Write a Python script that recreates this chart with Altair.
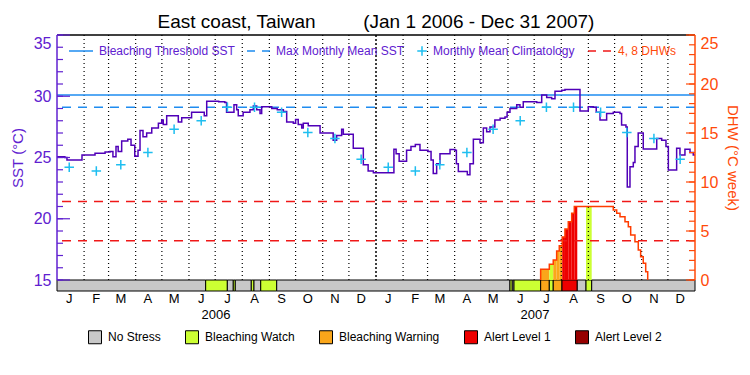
import altair as alt
import numpy as np
import pandas as pd

FONT = "Liberation Sans"
PURPLE = "#6020D0"
SST_LINE = "#5000B8"
BLUE = "#1E8CF0"
CYAN = "#1EBEF0"
ORANGE = "#FF4A0A"
DHW_LINE = "#FF3C00"
RED = "#F01818"

TITLE = "East coast, Taiwan" + "\u00a0" * 9 + "(Jan 1 2006 - Dec 31 2007)"

# ---- data (days counted from 2006-01-01) ----
sst_day = [0, 9, 11.4, 28.6, 43.5, 55, 60.6, 64, 67.5, 70, 74, 81, 84.7, 89, 92.7, 95, 98.4,
           102.6, 108.4, 116, 119.8, 121.6, 125.5, 138.8, 142.7, 154, 168.5, 171.3, 185, 192,
           194, 202.5, 205.6, 207.4, 213, 220.8, 224.6, 228.5, 232.3, 234.2, 245.7, 252, 259,
           262.8, 270.4, 273, 276, 280, 281.8, 287.5, 301, 316, 320, 325.7, 327.6, 339, 350.5,
           356, 362,
           385.5, 388, 391.5, 400, 405, 410, 415.3, 424.5, 428, 430.5, 434.4, 438.2, 449.7,
           455.4, 457, 459.2, 469.5, 472.5, 476.4, 484, 487.8, 491.6, 495.4, 501, 507, 512.6,
           515, 518.3, 526, 529.7, 533.5, 548.9, 554.6, 560.3, 566, 569.8, 577.5, 581.2, 598.4,
           607.9, 613.6, 617, 621.3, 628.9, 636.5, 644.2, 646, 651, 652.5, 655.6, 659.4, 661.3,
           665, 670.8, 682.3, 686.2, 691.9, 696.8, 699.5, 709, 712.8, 718.5, 724.3, 728, 730]
sst_val = [25.07, 25.0, 24.8, 25.2, 25.35, 25.45, 25.5, 25.07, 25.9, 25.5, 26.35, 26.5, 26.0,
           25.1, 25.6, 27.2, 26.7, 27.0, 27.4, 27.8, 28.06, 27.7, 28.4, 27.9, 28.25, 28.7, 28.4,
           29.6, 29.55, 29.5, 28.7, 29.3, 28.9, 28.4, 28.7, 28.9, 29.2, 28.9, 28.6, 29.15, 29.0,
           28.9, 28.75, 27.9, 27.8, 28.1, 27.7, 27.4, 27.8, 27.6, 27.0, 26.4, 26.8, 27.3, 26.9,
           25.75, 24.4, 23.9, 23.76,
           25.67, 25.3, 24.7, 25.6, 25.9, 26.07, 25.6, 25.5, 24.8, 23.7, 24.5, 25.3, 25.66,
           25.6, 24.5, 23.85, 23.6, 24.5, 26.5, 26.2, 27.4, 27.1, 27.5, 28.06, 28.2, 28.3,
           28.7, 29.0, 29.3, 29.1, 29.56, 29.5, 30.1, 29.9, 29.8, 30.4, 30.5, 30.56, 28.8,
           29.15, 29.1, 28.7, 28.06, 28.6, 28.7, 28.6, 27.65, 27.5, 22.6, 24.25, 24.6, 25.9,
           27.0, 25.7, 25.7, 26.55, 26.4, 25.9, 23.98, 25.75, 25.2, 25.67, 25.4, 25.2, 25.2]

clim_val = [24.2, 23.9, 24.4, 25.4, 27.3, 28.0, 29.1, 29.1, 28.7, 27.05, 26.55, 24.85]
threshold_sst = 30.1
mmm_sst = 29.1
dhw_levels = [4, 8]

dhw_day = [553.4, 553.4, 563.3, 567.8, 571.7, 574.7, 578.1, 581.2, 585, 588.9, 591.9, 636.5,
           640.4, 644.2, 649.9, 653.7, 656.4, 661.3, 665.1, 667.8, 670.8, 673.6, 675.9]
dhw_val = [0, 1.09, 1.6, 2.04, 2.96, 3.5, 4.4, 5.2, 5.95, 6.8, 7.5, 7.14,
           6.8, 6.46, 5.95, 5.44, 4.6, 3.9, 3.06, 2.38, 1.7, 0.85, 0]

status_names = ["No Stress", "Bleaching Watch", "Bleaching Warning", "Alert Level 1", "Alert Level 2"]
status_colors = ["#C8C8C8", "#CCFF33", "#FAA61A", "#EE0000", "#960000"]
status_start = [0, 170.1, 194.9, 201.7, 204, 222.3, 225.4, 233.1, 251.4, 518.3, 520.9, 522.9,
                553.4, 563.3, 567.8, 577.8, 595.3, 605.3, 611.8]
status_end = [170.1, 194.9, 201.7, 204, 222.3, 225.4, 233.1, 251.4, 518.3, 520.9, 522.9, 553.4,
              563.3, 567.8, 577.8, 595.3, 605.3, 611.8, 730]
status_level = ["No Stress", "Bleaching Watch", "No Stress", "Bleaching Watch", "No Stress",
                "Bleaching Watch", "No Stress", "Bleaching Watch", "No Stress", "Bleaching Watch",
                "No Stress", "Bleaching Watch", "Bleaching Warning", "Bleaching Watch",
                "Bleaching Warning", "Alert Level 1", "No Stress", "Bleaching Watch", "No Stress"]

month_letters = ["J", "F", "M", "A", "M", "J", "J", "A", "S", "O", "N", "D"]
year_labels = ["2006", "2007"]
year_mid = ["2006-07-02", "2007-07-02"]
sst_ticks = list(range(15, 36))
dhw_ticks = list(range(0, 26))
sst_labels = [15, 20, 25, 30, 35]
dhw_labels = [0, 5, 10, 15, 20, 25]

# ---- tables ----
origin = pd.Timestamp("2006-01-01")


def to_date(days):
    return origin + pd.to_timedelta(np.asarray(days, dtype=float), unit="D")


sst_df = pd.DataFrame({"date": to_date(sst_day), "sst": sst_val})
mid_months = [pd.Timestamp(y, m, 15) for y in (2006, 2007) for m in range(1, 13)]
clim_df = pd.DataFrame({"date": mid_months, "clim": clim_val * 2})
mon_df = pd.DataFrame({"date": mid_months, "label": month_letters * 2})
dhw_df = pd.DataFrame({"date": to_date(dhw_day), "dhw": dhw_val})
status_df = pd.DataFrame({"start": to_date(status_start), "end": to_date(status_end),
                          "status": status_level})


def status_at(t):
    for s, e, lv in zip(status_start, status_end, status_level):
        if s <= t < e:
            return lv
    return "No Stress"


def dhw_at(t):
    i = np.searchsorted(np.array(dhw_day), t, side="right") - 1
    return dhw_val[i] if i >= 0 else 0.0


cuts = sorted(set(dhw_day) | {s for s in status_start + status_end if dhw_day[0] < s < dhw_day[-1]})
rows = []
for a, b in zip(cuts[:-1], cuts[1:]):
    v, lv = dhw_at(a), status_at(a)
    if v > 0 and lv != "No Stress":
        rows.append({"start": a, "end": b, "dhw": v, "status": lv})
fill_df = pd.DataFrame(rows)
fill_df["start"] = to_date(fill_df["start"])
fill_df["end"] = to_date(fill_df["end"])
fill_df["base"] = 0.0

month_starts = pd.date_range("2006-02-01", "2007-12-01", freq="MS")
month_df = pd.DataFrame({"date": [d for d in month_starts if d != pd.Timestamp("2007-01-01")]})
jan_df = pd.DataFrame({"date": [pd.Timestamp("2007-01-01")]})
year_df = pd.DataFrame({"date": pd.to_datetime(year_mid), "label": year_labels})
one = pd.DataFrame({"i": [0]})

# ---- layout ----
W, H = 638, 256
PH = 245  # height of the SST/DHW panel above the status bar
BAR = H - PH

x_scale = alt.Scale(domain=[alt.DateTime(year=2006, month=1, date=1),
                            alt.DateTime(year=2008, month=1, date=1)])
# lower ends extended so that 15 degC / 0 DHW sit on top of the status bar
y_sst = alt.Scale(domain=[15 - 20 * BAR / PH, 35], nice=False, zero=False)
y_dhw = alt.Scale(domain=[-25 * BAR / PH, 25], nice=False, zero=False)
color_scale = alt.Scale(domain=status_names, range=status_colors)

left_axis = alt.Axis(
    orient="left", values=sst_labels, tickSize=0, grid=False, domain=False,
    labelColor=PURPLE, labelFontSize=16, labelFont=FONT, labelFlush=True,
    labelPadding=6, title="SST (°C)", titleColor=PURPLE, titleFontSize=15, titleFont=FONT,
    titleFontWeight="normal", titleAngle=270, titleX=-40, titleY=PH / 2,
    titleAlign="center", titleBaseline="middle",
)
right_axis = alt.Axis(
    orient="right", values=dhw_labels, tickSize=0, grid=False, domain=False,
    labelColor=ORANGE, labelFontSize=16, labelFont=FONT, labelFlush=True,
    labelPadding=5, title="DHW (°C week)", titleColor=ORANGE, titleFontSize=15, titleFont=FONT,
    titleFontWeight="normal", titleAngle=90, titleX=37, titleY=PH / 2,
    titleAlign="center", titleBaseline="middle",
)
legend = alt.Legend(
    orient="none", legendX=31, legendY=295, direction="horizontal", title=None,
    symbolType="square", symbolSize=169, symbolStrokeColor="black", symbolStrokeWidth=1,
    symbolOpacity=1, labelFontSize=12, labelFont=FONT, labelColor="black", labelOffset=6,
    columnPadding=22,
)


def X(f):
    return alt.X(f, scale=x_scale, axis=None)


status_bar = alt.Chart(status_df).mark_rect(stroke="black", strokeWidth=1).encode(
    x=X("start:T"), x2="end:T",
    y=alt.value(PH), y2=alt.value(H),
    color=alt.Color("status:N", scale=color_scale, legend=legend),
)
fills = alt.Chart(fill_df).mark_rect().encode(
    x=X("start:T"), x2="end:T",
    y=alt.Y("dhw:Q", scale=y_dhw, axis=None), y2="base:Q",
    color=alt.Color("status:N", scale=color_scale, legend=None),
)
months = alt.Chart(month_df).mark_rule(color="black", strokeWidth=1.2, strokeDash=[1, 3]).encode(
    x=X("date:T"), y=alt.value(0), y2=alt.value(PH))
jan = alt.Chart(jan_df).mark_rule(color="black", strokeWidth=1.5, strokeDash=[2, 2]).encode(
    x=X("date:T"), y=alt.value(0), y2=alt.value(PH))
border = alt.Chart(one).mark_rule(color="black", strokeWidth=1.5).encode(
    x=alt.value(0), x2=alt.value(W), y=alt.value(0))
left_line = alt.Chart(one).mark_rule(color=PURPLE, strokeWidth=1.5).encode(
    x=alt.value(0), y=alt.value(0), y2=alt.value(PH))
right_line = alt.Chart(one).mark_rule(color=ORANGE, strokeWidth=1.5).encode(
    x=alt.value(W), y=alt.value(0), y2=alt.value(PH))
thr = alt.Chart(pd.DataFrame({"v": [threshold_sst]})).mark_rule(color=BLUE, strokeWidth=1.5).encode(
    y=alt.Y("v:Q", scale=y_sst, axis=None))
mmm = alt.Chart(pd.DataFrame({"v": [mmm_sst]})).mark_rule(
    color=BLUE, strokeWidth=1.5, strokeDash=[9, 7]).encode(y=alt.Y("v:Q", scale=y_sst, axis=None))
dhw_dash = alt.Chart(pd.DataFrame({"v": dhw_levels})).mark_rule(
    color=RED, strokeWidth=1.5, strokeDash=[9, 7]).encode(y=alt.Y("v:Q", scale=y_dhw, axis=None))
sst_line = alt.Chart(sst_df).mark_line(interpolate="step-after", color=SST_LINE, strokeWidth=1.5).encode(
    x=X("date:T"), y=alt.Y("sst:Q", scale=y_sst, axis=left_axis))
clim = alt.Chart(clim_df).mark_point(
    shape="M-1,0L1,0M0,-1L0,1", size=90, filled=False, strokeWidth=1.5, color=CYAN, opacity=1
).encode(x=X("date:T"), y=alt.Y("clim:Q", scale=y_sst, axis=None))
dhw_line = alt.Chart(dhw_df).mark_line(interpolate="step-after", color=DHW_LINE, strokeWidth=1.5).encode(
    x=X("date:T"), y=alt.Y("dhw:Q", scale=y_dhw, axis=right_axis))

tick_sst = pd.DataFrame({"v": sst_ticks})
sst_minor = alt.Chart(tick_sst).mark_rule(color=PURPLE, strokeWidth=1.2).encode(
    y=alt.Y("v:Q", scale=y_sst, axis=None), x=alt.value(0), x2=alt.value(6))
sst_major = alt.Chart(tick_sst[tick_sst.v % 5 == 0]).mark_rule(color=PURPLE, strokeWidth=1.2).encode(
    y=alt.Y("v:Q", scale=y_sst, axis=None), x=alt.value(0), x2=alt.value(13))
tick_dhw = pd.DataFrame({"v": dhw_ticks})
dhw_minor = alt.Chart(tick_dhw).mark_rule(color=ORANGE, strokeWidth=1.2).encode(
    y=alt.Y("v:Q", scale=y_dhw, axis=None), x=alt.value(W), x2=alt.value(W - 6))
dhw_major = alt.Chart(tick_dhw[tick_dhw.v % 5 == 0]).mark_rule(color=ORANGE, strokeWidth=1.2).encode(
    y=alt.Y("v:Q", scale=y_dhw, axis=None), x=alt.value(W), x2=alt.value(W - 9))
mon_text = alt.Chart(mon_df).mark_text(fontSize=13, font=FONT, color="black", baseline="middle").encode(
    x=X("date:T"), y=alt.value(H + 8), text="label:N")
years = alt.Chart(year_df).mark_text(fontSize=13, font=FONT, color="black", baseline="middle").encode(
    x=X("date:T"), y=alt.value(280), text="label:N")


def label(txt, x, color):
    return alt.Chart(one).mark_text(text=txt, font=FONT, fontSize=12, color=color, align="left",
                                    baseline="middle").encode(x=alt.value(x), y=alt.value(16))


def seg(x1, x2, color, dash=None):
    kw = dict(color=color, strokeWidth=1.5)
    if dash:
        kw["strokeDash"] = dash
    return alt.Chart(one).mark_rule(**kw).encode(x=alt.value(x1), x2=alt.value(x2), y=alt.value(16))


plus_key = alt.Chart(one).mark_point(shape="M-1,0L1,0M0,-1L0,1", size=90, filled=False,
                                     strokeWidth=1.5, color=CYAN, opacity=1).encode(
    x=alt.value(365), y=alt.value(16))

key_layers = [
    seg(12, 36, BLUE), label("Bleaching Threshold SST", 42, PURPLE),
    seg(190, 213, BLUE, [8, 7]), label("Max Monthly Mean SST", 219, PURPLE),
    plus_key, label("Monthly Mean Climatology", 376, PURPLE),
    seg(531, 555, RED, [8, 7]), label("4, 8 DHWs", 561, ORANGE),
]

chart = alt.layer(
    status_bar, fills, months, jan, border, thr, mmm, dhw_dash, sst_line, clim, dhw_line,
    left_line, right_line, sst_minor, sst_major, dhw_minor, dhw_major, mon_text, years,
    *key_layers,
).resolve_scale(y="independent").properties(
    width=W, height=H,
    title=alt.TitleParams(text=TITLE, anchor="middle", frame="group", fontSize=19, font=FONT,
                          fontWeight="normal", color="black", offset=6, dy=4),
    autosize=alt.AutoSizeParams(type="none"),
    padding={"left": 49, "top": 27, "right": 47, "bottom": 60},
).configure_view(strokeWidth=0)

chart.save("out.html", embed_options={"renderer": "svg", "actions": False})
